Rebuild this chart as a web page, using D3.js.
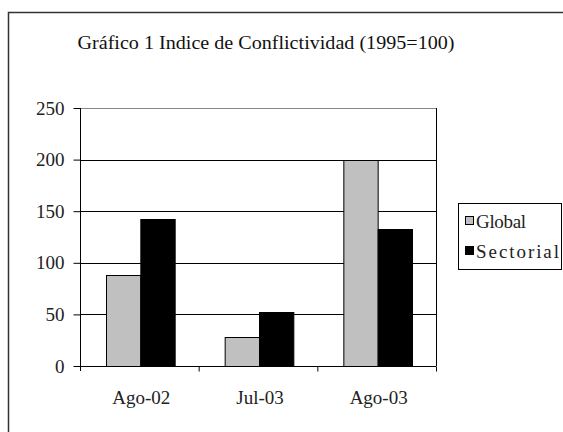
<!DOCTYPE html>
<html><head><meta charset="utf-8">
<script src="https://cdn.jsdelivr.net/npm/d3@7/dist/d3.min.js"></script>
<style>body{margin:0;background:#fff}svg{display:block}</style>
</head><body>
<script>
const categories = ["Ago-02", "Jul-03", "Ago-03"];
const seriesNames = ["Global", "Sectorial"];
const globalValues = [88, 28, 200];
const sectorialValues = [142, 52, 133];
const yTicks = [0, 50, 100, 150, 200, 250];
const titleText = "Gráfico 1 Indice de Conflictividad (1995=100)";
const colors = {Global: "#c0c0c0", Sectorial: "#000000"};
const FONT = "'Liberation Serif', 'Times New Roman', Times, serif";

const W = 563, H = 432;
const svg = d3.select("body").append("svg").attr("width", W).attr("height", H)
  .style("font-family", FONT);

// outer frame (only left and top visible)
svg.append("path").attr("d", "M8.5,440V12.5H570")
  .attr("fill", "none").attr("stroke", "#333").attr("stroke-width", 1.5);

svg.append("text").attr("x", 266).attr("y", 49).attr("text-anchor", "middle")
  .style("font-family", FONT).attr("fill", "#111")
  .attr("font-size", 19).attr("textLength", 377).attr("lengthAdjust", "spacingAndGlyphs").text(titleText);

const pL = 80, pR = 436, pT = 108, pB = 366;
const y = d3.scaleLinear().domain([0, 250]).range([pB, pT]);
const x0 = d3.scaleBand().domain(categories).range([pL, pR]).padding(0);
const bw = x0.bandwidth();
const x1 = d3.scaleBand().domain(seriesNames).range([26, bw - 24]).padding(0);

// gridlines
svg.append("g").selectAll("line").data(yTicks.filter(t => t > 0)).join("line")
  .attr("x1", pL).attr("x2", pR)
  .attr("y1", d => Math.round(y(d)) + 0.5).attr("y2", d => Math.round(y(d)) + 0.5)
  .attr("stroke", d => d === 250 ? "#888" : "#000").attr("stroke-width", 1);
// right border
svg.append("line").attr("x1", pR + 0.5).attr("x2", pR + 0.5).attr("y1", pT).attr("y2", pB)
  .attr("stroke", "#000");

// bars
const data = categories.map((c, i) => ({cat: c, vals: [
  {s: "Global", v: globalValues[i]}, {s: "Sectorial", v: sectorialValues[i]}]}));
const g = svg.append("g");
g.selectAll("g").data(data).join("g")
  .attr("transform", d => `translate(${x0(d.cat)},0)`)
  .selectAll("rect").data(d => d.vals).join("rect")
  .attr("x", d => x1(d.s) + 0.5).attr("width", x1.bandwidth())
  .attr("y", d => Math.round(y(d.v)) + 0.5).attr("height", d => pB - Math.round(y(d.v)))
  .attr("fill", d => colors[d.s]).attr("stroke", "#000").attr("stroke-width", 1);

// y axis
const yAxis = d3.axisLeft(y).tickValues(yTicks).tickSize(7).tickPadding(9).tickFormat(d3.format("d"));
const ya = svg.append("g").attr("transform", `translate(${pL + 0.5},0)`).call(yAxis);
ya.attr("font-family", null);
ya.select(".domain").attr("stroke", "#000").attr("d", `M0,${pT}V${pB + 5}`);
ya.selectAll(".tick line").attr("stroke", "#000");
ya.selectAll("text").attr("font-size", 19).style("font-family", FONT).attr("fill", "#222");

// x axis
const xa = svg.append("g").attr("transform", `translate(0,${pB + 0.5})`);
xa.append("line").attr("x1", pL).attr("x2", pR).attr("stroke", "#000");
xa.selectAll(".tk").data(categories).join("line").attr("class", "tk")
  .attr("x1", d => x0(d) + bw + 0.5).attr("x2", d => x0(d) + bw + 0.5)
  .attr("y1", 0).attr("y2", 5).attr("stroke", "#000");
xa.selectAll("text").data(categories).join("text")
  .attr("x", d => x0(d) + bw / 2 + 2).attr("y", 37).attr("text-anchor", "middle")
  .style("font-family", FONT).attr("font-size", 19).attr("fill", "#222").text(d => d);

// legend
const lg = svg.append("g");
lg.append("rect").attr("x", 458.5).attr("y", 203.5).attr("width", 103).attr("height", 66)
  .attr("fill", "#fff").attr("stroke", "#000");
seriesNames.forEach((s, i) => {
  const yy = 216 + i * 30;
  lg.append("rect").attr("x", 465.5).attr("y", yy + 0.5).attr("width", 8).attr("height", 8)
    .attr("fill", colors[s]).attr("stroke", "#000");
  lg.append("text").attr("x", 476).attr("y", yy + 12).attr("font-size", 19).attr("fill", "#222")
    .style("font-family", FONT)
    .attr("textLength", s === "Global" ? 50 : 83).attr("lengthAdjust", "spacing").text(s);
});
</script>
</body></html>
